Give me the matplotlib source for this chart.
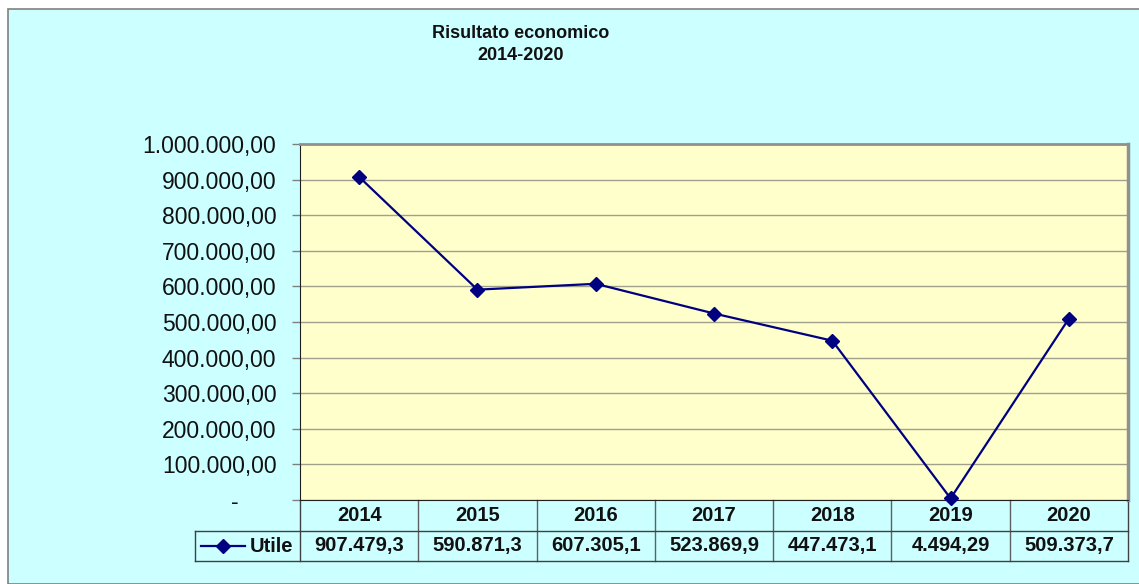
import numpy as np
import matplotlib
matplotlib.use('Agg')
import matplotlib.pyplot as plt
from matplotlib.patches import Rectangle
from matplotlib.lines import Line2D
from matplotlib.ticker import FuncFormatter, MultipleLocator
import matplotlib.transforms as mtransforms

plt.rcParams['font.family'] = ['Liberation Sans', 'DejaVu Sans']

# dati
anni = ['2014', '2015', '2016', '2017', '2018', '2019', '2020']
utile = [907479.3, 590871.3, 607305.1, 523869.9, 447473.1, 4494.29, 509373.7]
utile_txt = ['907.479,3', '590.871,3', '607.305,1', '523.869,9', '447.473,1', '4.494,29', '509.373,7']
titolo = 'Risultato economico\n2014-2020'
serie = 'Utile'

W, H = 1139, 584
fig = plt.figure(figsize=(W / 100, H / 100), dpi=100, facecolor='white')

# sfondo azzurro del grafico
bg = Rectangle((8 / W, 0), 1, 1 - 9 / H, transform=fig.transFigure,
               facecolor='#ccffff', edgecolor='#808080', linewidth=1.2, zorder=-5)
fig.patches.append(bg)

ax = fig.add_axes([300 / W, (H - 500) / H, 828 / W, 356 / H])
ax.set_zorder(2)
ax.set_facecolor('#ffffcc')
x = np.arange(len(anni))
ax.plot(x, utile, color='#000080', linewidth=1.6, marker='D', markersize=7.5,
        markerfacecolor='#000080', markeredgecolor='#000080', zorder=3, clip_on=False)

ax.set_xlim(-0.5, len(anni) - 0.5)
ax.set_ylim(0, 1000000)
ax.yaxis.set_major_locator(MultipleLocator(100000))
ax.grid(axis='y', color='#a0a08c', linewidth=1)
ax.set_axisbelow(True)


def fmt(v, pos):
    if v == 0:
        return '-      '
    s = '{:,.2f}'.format(v)
    return s.replace(',', 'X').replace('.', ',').replace('X', '.')


ax.yaxis.set_major_formatter(FuncFormatter(fmt))
ax.tick_params(axis='y', length=6, width=1, color='#808080', pad=11, labelsize=16.5, labelcolor='#111111')
ax.tick_params(axis='x', length=0, labelbottom=False)

ax.spines['left'].set_color('#202020')
ax.spines['bottom'].set_color('#202020')
ax.spines['top'].set_color('#909090')
ax.spines['right'].set_color('#909090')
ax.spines['top'].set_linewidth(2)
ax.spines['right'].set_linewidth(2.5)

# tabella dati
tr = mtransforms.blended_transform_factory(ax.transData, ax.transAxes)
r0, r1, r2 = 0, -31 / 356, -61 / 356
leg_x = -0.5 - 105 / (828 / 7)
xe = len(anni) - 0.5
lc = '#404040'
for i in range(len(anni) + 1):
    xb = i - 0.5
    ax.add_line(Line2D([xb, xb], [r0, r2], transform=tr, color='#606060' if 0 < i < len(anni) else lc,
                       linewidth=1, clip_on=False))
ax.add_line(Line2D([leg_x, xe], [r1, r1], transform=tr, color=lc, linewidth=1, clip_on=False))
ax.add_line(Line2D([leg_x, xe], [r2, r2], transform=tr, color=lc, linewidth=1, clip_on=False))
ax.add_line(Line2D([leg_x, leg_x], [r1, r2], transform=tr, color=lc, linewidth=1, clip_on=False))

for i, (a, t) in enumerate(zip(anni, utile_txt)):
    ax.text(i, (r0 + r1) / 2, a, transform=tr, ha='center', va='center',
            fontsize=14.5, fontweight='bold', color='#111111')
    ax.text(i, (r1 + r2) / 2, t, transform=tr, ha='center', va='center',
            fontsize=14.5, fontweight='bold', color='#111111')

# legenda nella tabella
ym = (r1 + r2) / 2
px = 828 / 7
ax.add_line(Line2D([leg_x + 6 / px, leg_x + 50 / px], [ym, ym], transform=tr, color='#000080',
                   linewidth=1.6, clip_on=False))
ax.add_line(Line2D([leg_x + 28 / px], [ym], transform=tr, color='#000080', marker='D',
                   markersize=7.5, clip_on=False))
ax.text(-0.5 - 7 / px, ym, serie, transform=tr, ha='right', va='center',
        fontsize=14.5, fontweight='bold', color='#111111')

fig.text(521 / W, 1 - 44.5 / H, titolo, ha='center', va='center', fontsize=13,
         fontweight='bold', color='#111111', linespacing=1.4)

fig.savefig('out.png', dpi=100, facecolor=fig.get_facecolor())
